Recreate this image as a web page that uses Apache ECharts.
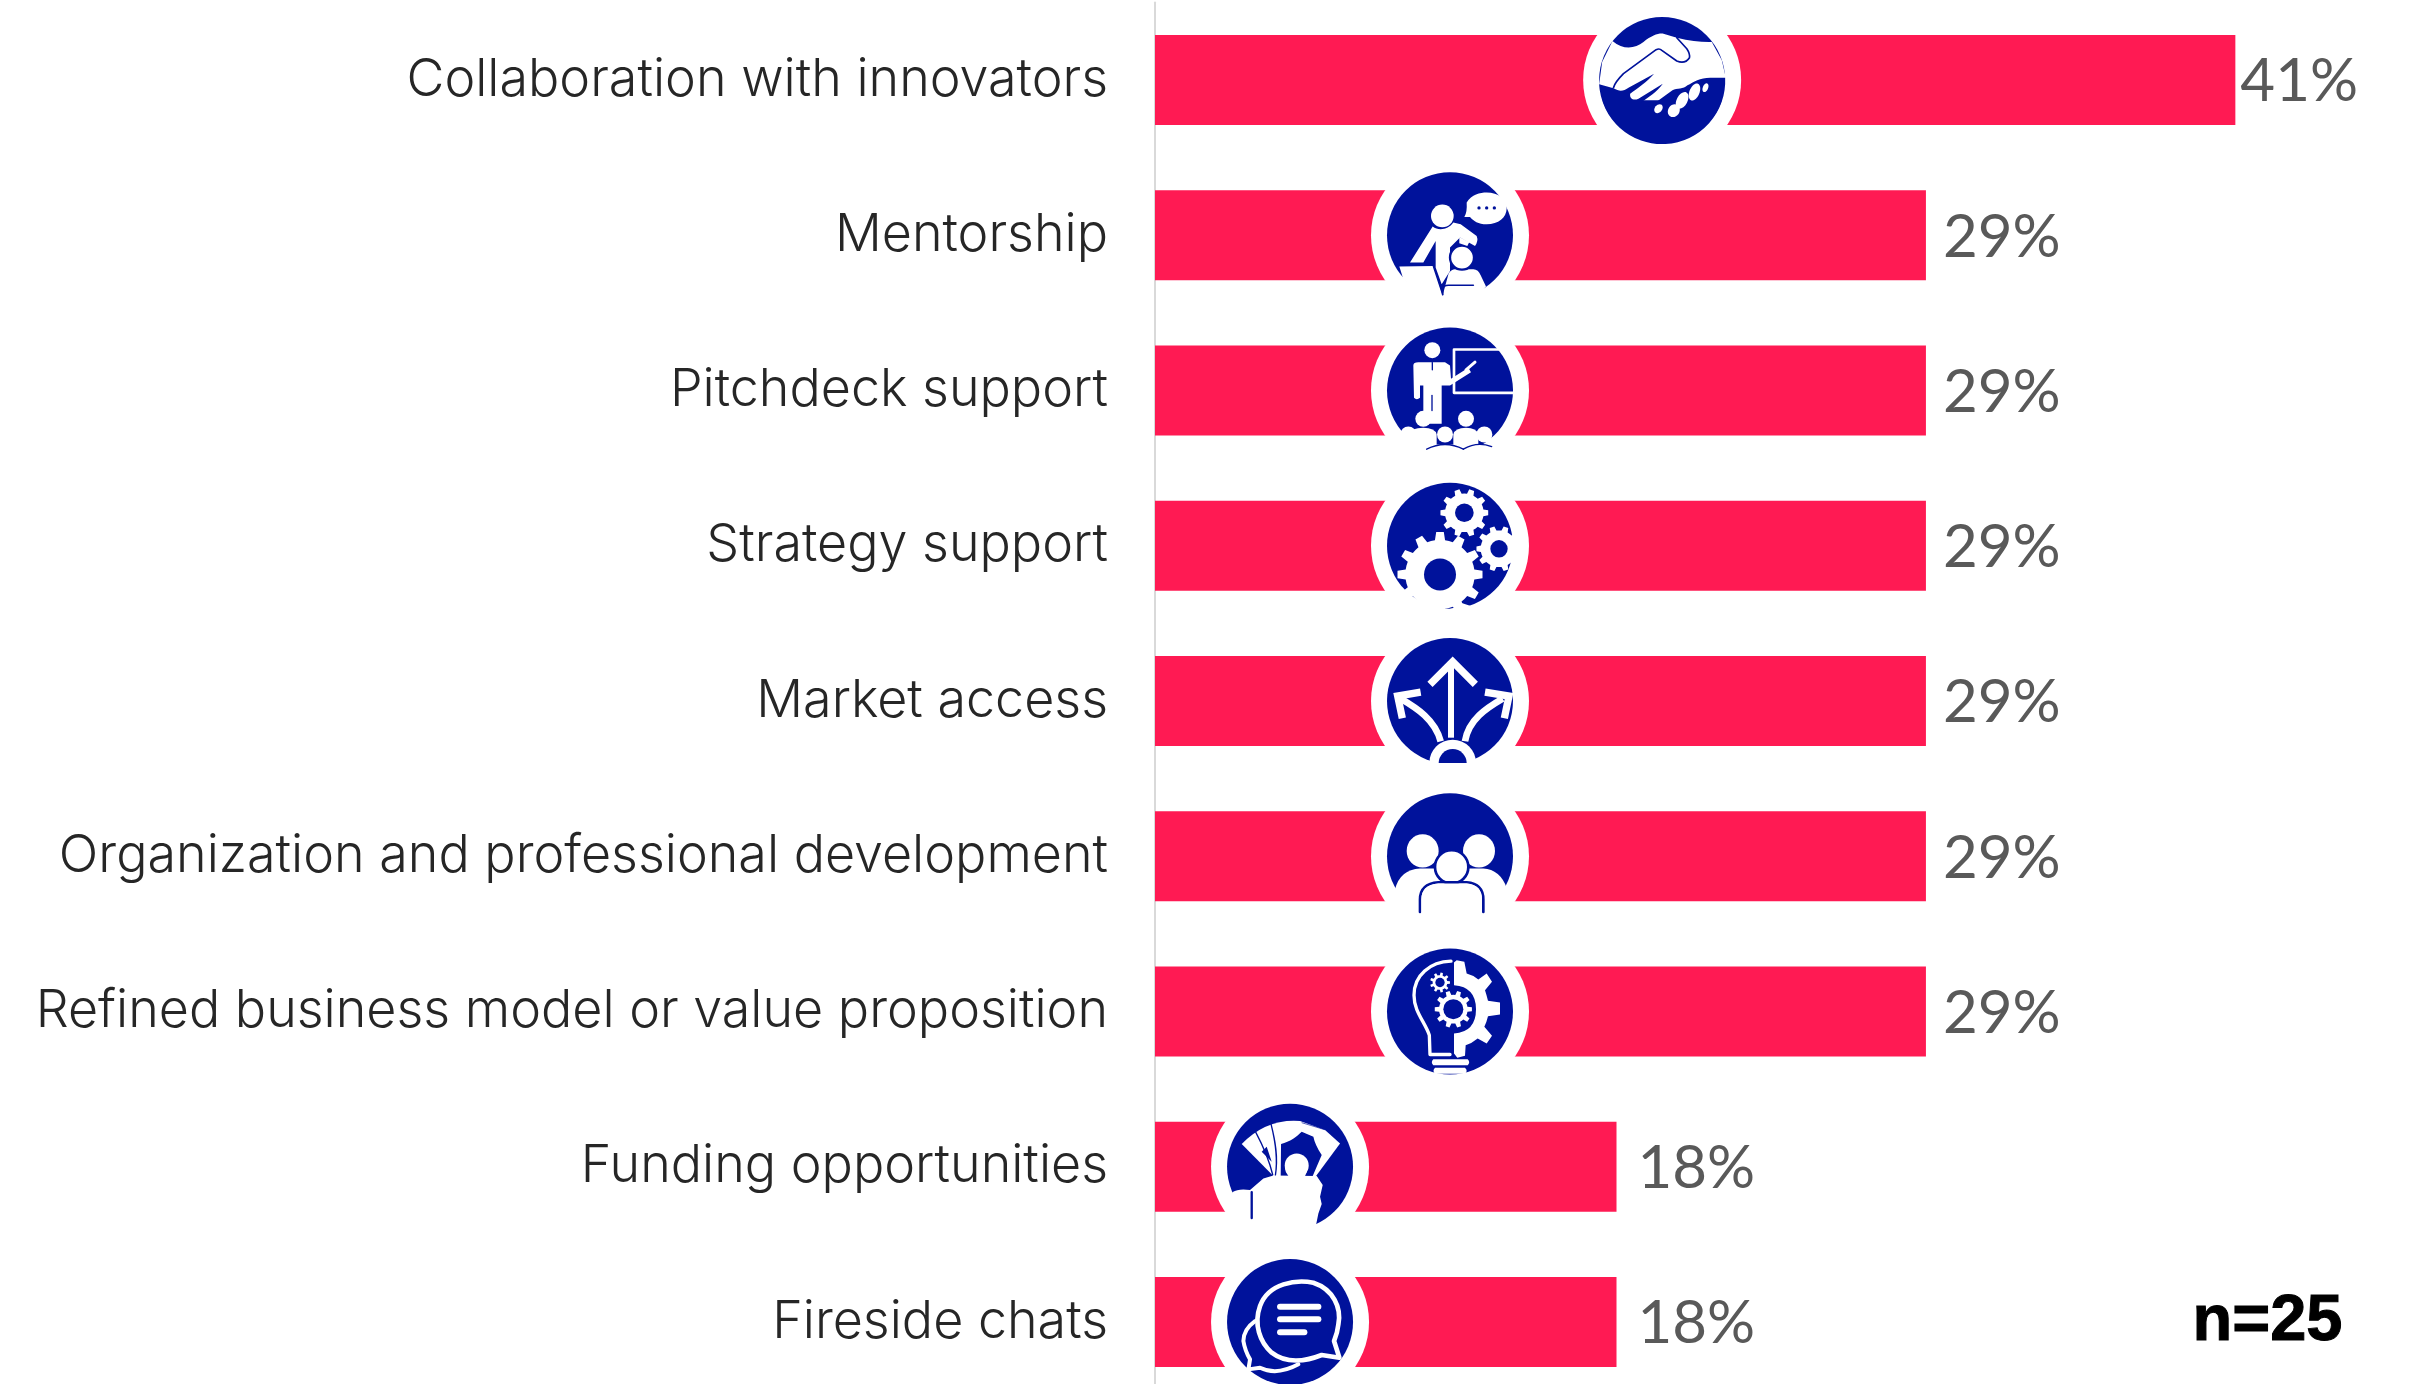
<!DOCTYPE html>
<html><head><meta charset="utf-8">
<style>html,body{margin:0;padding:0;background:#fff;overflow:hidden}#c{width:2428px;height:1384px}</style>
<script src="https://cdn.jsdelivr.net/npm/echarts@6/dist/echarts.min.js"></script>
</head><body><div id="c"></div>
<script>
const categories = ["Collaboration with innovators","Mentorship","Pitchdeck support","Strategy support","Market access","Organization and professional development","Refined business model or value proposition","Funding opportunities","Fireside chats"];
const shares = [41.2,29.4,29.4,29.4,29.4,29.4,29.4,17.6,17.6];
const iconAt = [19.34,11.25,11.25,11.25,11.25,11.25,11.25,5.15,5.15];
const noteText = "n=25";

const RED="#ff1a53", BLUE="#00129b", W="#ffffff";
let sid=0;
function P(d,fill,stroke,w,cap){
  const name="ic"+(sid++);
  echarts.graphic.registerShape(name,echarts.graphic.extendPath(d,{}));
  return {type:name,shape:{},style:{fill:fill||"none",stroke:stroke||"none",lineWidth:w||0,lineCap:cap||"round",lineJoin:cap?"miter":"round"}};
}
function C(x,y,r,fill,stroke,w){return {type:"circle",shape:{cx:x,cy:y,r:r},style:{fill:fill||"none",stroke:stroke||"none",lineWidth:w||0}};}
function E(x,y,rx,ry,rot,fill){return {type:"ellipse",x:x,y:y,rotation:rot,shape:{cx:0,cy:0,rx:rx,ry:ry},style:{fill:fill}};}
function L(x1,y1,x2,y2,stroke,w,cap){return {type:"line",shape:{x1,y1,x2,y2},style:{stroke,lineWidth:w,lineCap:cap||"round"}};}
function gear(cx,cy,ro,ri,n){
  let d="";const step=Math.PI*2/n;
  for(let i=0;i<n;i++){const a=i*step;
    const pts=[[ri,a-step*.5],[ri,a-step*.28],[ro,a-step*.17],[ro,a+step*.17],[ri,a+step*.28]];
    pts.forEach((p,j)=>{const x=cx+p[0]*Math.cos(p[1]),y=cy+p[0]*Math.sin(p[1]);d+=((i===0&&j===0)?"M":"L")+x.toFixed(1)+" "+y.toFixed(1)+" ";});
  }
  return P(d+"Z",W);
}
const icons=[
 {cx:246,cy:239,parts:[
  P("M97 122 C130 150 165 145 190 125 C215 105 235 98 250 100 L290 112 C330 122 365 126 395 125 L425 180 L437 232 L437 300 L60 300 L57 252 L66 185 Z",W),
  P("M100 262 C105 245 115 235 130 220 L228 148 Q238 143 245 150 L290 182 Q315 192 328 172 Q330 160 320 145 L290 112",null,BLUE,5),
  P("M57 252 L100 264 C120 275 130 272 145 262 L222 220 C200 245 170 265 150 280 C148 295 160 302 175 295 L248 250 C230 275 205 290 185 305 C185 318 205 325 215 315 L277 270 C290 262 310 268 322 255 C340 245 360 232 390 232 L435 232 A189 189 0 0 1 57 252 Z",BLUE),
  E(235,325,11,15,-0.7,W),E(281,331,17,20,-0.6,W),E(306,300,16,27,-0.5,W),E(343,275,15,27,-0.4,W),E(376,262,8,14,-0.4,W)
 ]},
 {cx:240,cy:238,parts:[
  P("M290 140 C305 115 330 110 350 110 C385 110 410 130 410 157 C410 185 385 205 350 205 C325 205 310 195 300 183 L283 183 Q292 170 290 140 Z",W),
  C(327,156,5,BLUE),C(350,156,5,BLUE),C(373,156,5,BLUE),
  C(217,180,34,W),
  P("M188 212 C205 226 235 222 250 200 L272 205 L320 240 Q326 255 315 270 L270 245 L240 275 L240 345 L215 385 L197 335 L197 255 L160 320 L120 320 Z",W),
  P("M88 332 L190 330 L218 418 L236 352 Q245 340 255 340 L310 340 Q325 340 332 358 L348 392 L300 445 L180 445 L100 370 Z",W),
  C(276,305,36,W,BLUE,7),
  P("M268 243 L298 258 L292 270 L268 262 Z",W),
  L(190,331,218,416,BLUE,4),
  P("M218 416 L218 398 Q220 388 235 388 L310 388",null,BLUE,5)
 ]},
 {cx:240,cy:240,parts:[
  C(187,119,24,W),
  P("M130 165 Q130 155 145 155 L225 155 L240 165 L243 205 L295 172 L303 185 L240 225 L215 225 L215 340 L160 340 L160 225 L150 225 L150 262 Q140 270 132 262 Z",W),
  L(187,156,187,178,BLUE,4),L(186,255,186,300,BLUE,4),
  L(288,178,315,155,W,9),
  P("M390 117 L252 117 L252 247 L428 247",null,W,8),
  C(160,325,24,W),C(288,325,24,W),
  P("M105 372 Q125 352 160 352 Q195 352 200 372 L200 445 L105 445 Z",W),
  P("M250 372 Q255 352 288 352 Q320 352 325 372 L325 445 L250 445 Z",W),
  C(115,372,24,W),C(225,372,24,W),C(343,372,24,W),
  P("M100 402 L385 402 L360 445 L120 445 Z",W),
  P("M170 416 Q225 388 280 416",null,BLUE,4),P("M280 416 Q320 392 365 408",null,BLUE,4)
 ]},
 {cx:240,cy:240,parts:[
  gear(283,141,72,58,10),C(283,141,28,BLUE),
  gear(387,249,68,55,10),C(387,249,26,BLUE),
  gear(210,326,128,104,12),C(210,326,48,BLUE),
  P("M90 390 L120 380 L135 420 L200 440 L255 425 L275 412 L300 420 L280 445 L150 445 L95 400 Z",W)
 ]},
 {cx:240,cy:240,parts:[
  L(243,135,243,350,W,18,"butt"),
  P("M180 190 L248 122 L316 190",null,W,22,"butt"),
  P("M92 233 C140 261 195 296 212 361",null,W,20,"butt"),
  P("M152 213 L83 225 L97 292",null,W,22,"butt"),
  P("M398 233 C350 261 295 296 285 361",null,W,20,"butt"),
  P("M345 213 L417 225 L403 292",null,W,22,"butt"),
  C(248,426,70,W),
  P("M206 426 A42 42 0 0 1 290 426 Z",BLUE)
 ]},
 {cx:240,cy:240,parts:[
  E(158,224,48,50,0,W),E(327,224,48,50,0,W),
  P("M75 340 Q90 280 150 277 L340 277 Q390 280 410 335 L380 445 L100 445 Z",W),
  C(245,272,50,W,BLUE,8),
  P("M150 407 L150 370 Q150 322 205 318 L290 318 Q340 322 340 370 L340 407",null,BLUE,8),
  P("M154 370 Q154 326 205 322 L290 322 Q336 326 336 370 L336 445 L154 445 Z",W)
 ]},
 {cx:240,cy:239,parts:[
  P("M252 92 L260 85 L283 90 L290 125 Q310 130 325 143 L350 125 L366 150 L345 175 Q350 190 354 207 L390 212 L390 248 L354 253 Q350 270 343 285 L366 312 L350 335 L323 320 Q305 335 287 340 L285 372 L262 378 L252 365 L252 305 Q318 300 318 232 Q318 165 252 160 Z",W),
  P("M243 88 C180 90 132 130 132 190 C132 240 165 270 178 310 L180 368 L240 368",null,W,10),
  P("M190 382 L293 382 Q302 391 293 400 L190 400 Q181 391 190 382 Z",W),
  P("M195 408 L285 408 Q295 417 285 426 L195 426 Q186 417 195 408 Z",W),
  gear(210,152,30,22,9),C(210,152,14,BLUE),
  gear(250,232,56,43,10),C(250,232,30,BLUE)
 ]},
 {cx:240,cy:240,parts:[
  P("M95 172 Q170 95 270 103 L345 130 L390 170 L318 268 L190 268 Z",W),
  P("M213 172 C240 165 260 150 275 135 L310 150 Q315 175 335 205 L308 268 L285 268 Q300 240 285 215 Q260 190 235 215 Q215 245 235 268 L212 268 Z",BLUE),
  P("M137 136 C155 170 175 210 188 264",null,BLUE,4),
  P("M183 112 C195 160 205 210 196 266",null,BLUE,4),
  P("M155 195 L170 180 L185 225 Z",BLUE),
  L(276,108,345,129,BLUE,2),
  C(260,236,36,W),
  P("M68 316 Q85 305 120 310 L160 275 L190 266 L320 268 L338 295 L330 330 L335 352 L325 380 L318 415 L240 445 L120 420 L60 330 Z",W),
  L(125,316,125,394,BLUE,7)
 ]},
 {cx:240,cy:293,parts:[
  P("M335 392 C290 410 230 420 185 385 C150 355 130 300 150 245 C175 175 260 165 310 175 C370 195 395 250 385 300 C383 320 378 335 372 350 L388 400 Z",null,W,14),
  P("M135 290 Q100 315 100 350 Q105 380 120 405 L115 435 L150 430 Q200 455 265 420",null,W,12),
  L(210,247,325,247,W,18),L(210,285,325,285,W,18),L(210,324,283,324,W,18)
 ]}
];

const chart=echarts.init(document.getElementById("c"),null,{renderer:"canvas"});
const gapByLabel={41:5,29:17,18:21};
chart.setOption({
  animation:false,backgroundColor:"#fff",
  grid:{left:1155,top:2.4,width:1180,height:1397.25,containLabel:false,outerBoundsMode:"none"},
  xAxis:{type:"value",min:0,max:45,show:false},
  yAxis:{type:"category",inverse:true,data:categories,
    axisTick:{show:false},splitLine:{show:false},
    axisLine:{show:true,lineStyle:{color:"#d9d9d9",width:2}},
    axisLabel:{margin:47,padding:[3,0,0,0],fontFamily:"Inter",fontSize:52,fontWeight:300,color:"#262626"}},
  series:[
   {type:"bar",data:shares,barWidth:90,itemStyle:{color:RED},
    label:{show:true,position:"right",fontFamily:"Lato",fontSize:60,fontWeight:400,color:"#595959",
      formatter:p=>Math.round(p.value)+"%"},
    labelLayout:p=>{const t=Math.round(shares[p.dataIndex]);return {dx:gapByLabel[t]-5,dy:2};}},
   {type:"custom",data:iconAt.map((v,i)=>[v,i]),encode:{x:0,y:1},clip:false,silent:true,z:5,
    renderItem:(params,api)=>{
      const p=api.coord([api.value(0),api.value(1)]);
      const ic=icons[params.dataIndex];
      return {type:"group",x:p[0]-ic.cx/3,y:p[1]-ic.cy/3,scaleX:1/3,scaleY:1/3,
        children:[C(ic.cx,ic.cy,237,W),C(ic.cx,ic.cy,189,BLUE)].concat(ic.parts)};
    }}
  ],
  graphic:[{type:"text",left:2192,top:1289,z:10,style:{text:noteText,fontFamily:"Liberation Sans",fontWeight:"bold",fontSize:65,fill:"#000",stroke:"#000",lineWidth:1}}]
});
</script></body></html>
